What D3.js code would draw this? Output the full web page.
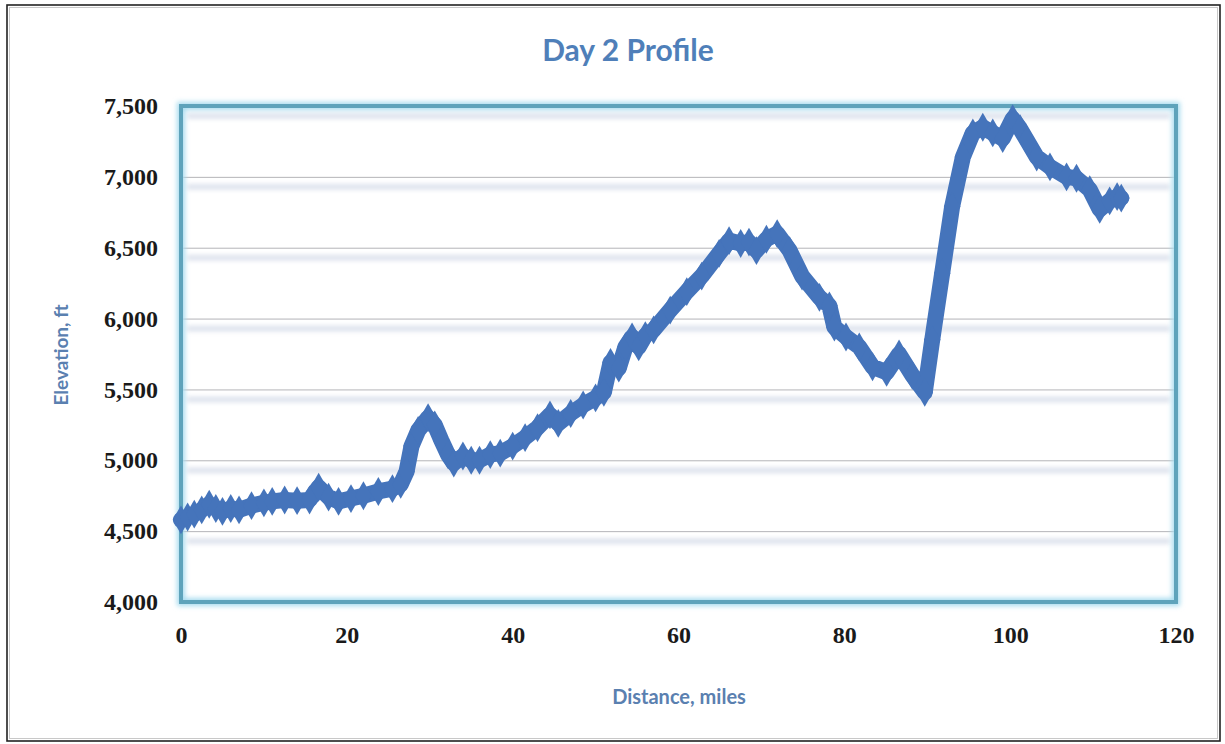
<!DOCTYPE html>
<html>
<head>
<meta charset="utf-8">
<script src="https://cdn.jsdelivr.net/npm/d3@7"></script>
<style>
  html, body { margin: 0; padding: 0; background: #ffffff; }
  svg { display: block; }
</style>
</head>
<body>
<svg id="chart" width="1225" height="744"></svg>
<script>
// ---- data ----
const chartTitle = "Day 2 Profile";
const xAxisTitle = "Distance, miles";
const yAxisTitle = "Elevation, ft";

const xTicks = [0, 20, 40, 60, 80, 100, 120];
const yTicks = [4000, 4500, 5000, 5500, 6000, 6500, 7000, 7500];

const distanceMiles = [
  0, 0.8, 1.6, 2.5, 3.4, 4.2, 5.0, 6.0, 7.0, 8.5,
  10, 11, 12.5, 14, 15.5, 16.6, 17.8, 19, 20.5, 22,
  23.8, 25.5, 26.5, 27.2, 27.8, 28.6, 29.8, 30.6, 31.4, 32.2,
  32.9, 34.0, 35.0, 36.0, 37.3, 38.5, 40.0, 41.5, 43.0, 44.5,
  45.5, 47.0, 48.5, 50.0, 51.0, 51.8, 52.8, 53.6, 54.4, 55.2,
  56.0, 57.0, 59.0, 61.0, 62.8, 64.9, 66.1, 67.5, 68.5, 69.4,
  70.6, 71.9, 73.4, 74.9, 77.0, 78.2, 78.8, 80.2, 81.8, 83.4,
  85.1, 86.6, 88.2, 89.7, 90.6, 91.8, 93.0, 94.3, 95.5, 96.7,
  97.9, 99.1, 100.3, 101.2, 102.0, 103.2, 104.8, 106.8, 108.0, 109.6,
  110.8, 112.0, 112.9, 113.4
];
const elevationFt = [
  4580, 4600, 4620, 4650, 4690, 4660, 4640, 4660, 4650, 4680,
  4700, 4710, 4720, 4715, 4720, 4810, 4740, 4710, 4730, 4750,
  4780, 4800, 4830, 4920, 5100, 5210, 5300, 5250, 5140, 5040,
  4980, 5030, 5000, 5000, 5040, 5050, 5100, 5160, 5230, 5320,
  5260, 5330, 5390, 5440, 5480, 5690, 5650, 5800, 5870, 5800,
  5880, 5920, 6060, 6190, 6300, 6460, 6550, 6530, 6540, 6480,
  6560, 6600, 6480, 6300, 6150, 6090, 5940, 5870, 5800, 5660,
  5620, 5750, 5600, 5480, 5850, 6320, 6790, 7140, 7310, 7350,
  7310, 7270, 7410, 7340, 7260, 7140, 7070, 7000, 6990, 6910,
  6770, 6830, 6860, 6850
];

// ---- drawing ----
const svg = d3.select("#chart");
const W = 1225, H = 744;
const plot = { left: 181, right: 1176, top: 106, bottom: 602 };

const x = d3.scaleLinear().domain([0, 120]).range([plot.left, plot.right]);
const y = d3.scaleLinear().domain([4000, 7500]).range([plot.bottom, plot.top]);

const defs = svg.append("defs");
const blur = defs.append("filter").attr("id", "soft")
  .attr("x", "-5%").attr("y", "-200%").attr("width", "110%").attr("height", "500%");
blur.append("feGaussianBlur").attr("stdDeviation", 2.2);
const glow = defs.append("filter").attr("id", "glow")
  .attr("x", "-5%").attr("y", "-5%").attr("width", "110%").attr("height", "110%");
glow.append("feGaussianBlur").attr("stdDeviation", 2.5);

// outer border
svg.append("rect").attr("x", 7).attr("y", 5).attr("width", W - 12).attr("height", H - 8)
  .attr("fill", "none").attr("stroke", "#222").attr("stroke-width", 1.6);
svg.append("rect").attr("x", 9.5).attr("y", 7.5).attr("width", W - 17).attr("height", H - 13)
  .attr("fill", "none").attr("stroke", "#c8c8c8").attr("stroke-width", 1);

// gridline shadows
svg.append("g").selectAll("rect").data(yTicks.filter(d => d > 4000))
  .join("rect")
  .attr("x", plot.left + 6).attr("width", plot.right - plot.left - 12)
  .attr("y", d => y(d) + 7).attr("height", 6)
  .attr("fill", "#dfe4ee").attr("filter", "url(#soft)");

// gridlines
svg.append("g").selectAll("line").data(yTicks.filter(d => d > 4000 && d < 7500))
  .join("line")
  .attr("x1", plot.left).attr("x2", plot.right)
  .attr("y1", d => y(d) + 0.5).attr("y2", d => y(d) + 0.5)
  .attr("stroke", "#b4b4b8").attr("stroke-width", 1);

// frame glow + frame
svg.append("rect")
  .attr("x", plot.left).attr("y", plot.top)
  .attr("width", plot.right - plot.left).attr("height", plot.bottom - plot.top)
  .attr("fill", "none").attr("stroke", "#a8dcef").attr("stroke-width", 8)
  .attr("filter", "url(#glow)");
svg.append("rect")
  .attr("x", plot.left).attr("y", plot.top)
  .attr("width", plot.right - plot.left).attr("height", plot.bottom - plot.top)
  .attr("fill", "none").attr("stroke", "#5ea3bb").attr("stroke-width", 4);

// axes (labels only)
const yAxis = d3.axisLeft(y).tickValues(yTicks).tickFormat(d3.format(",")).tickSize(0).tickPadding(23);
const gy = svg.append("g").attr("transform", `translate(${plot.left},0)`).call(yAxis);
gy.select(".domain").remove();
gy.selectAll("text").attr("font-family", "'Liberation Serif', 'DejaVu Serif', serif")
  .attr("font-size", 24).attr("font-weight", "bold").attr("fill", "#1a1a1a");

const xAxis = d3.axisBottom(x).tickValues(xTicks).tickSize(0).tickPadding(24);
const gx = svg.append("g").attr("transform", `translate(0,${plot.bottom})`).call(xAxis);
gx.select(".domain").remove();
gx.selectAll("text").attr("font-family", "'Liberation Serif', 'DejaVu Serif', serif")
  .attr("font-size", 24).attr("font-weight", "bold").attr("fill", "#1a1a1a");

// line
const pts = distanceMiles.map((d, i) => [d, elevationFt[i]]);
const line = d3.line().x(d => x(d[0])).y(d => y(d[1]));
const lineColor = "#4574bb";
svg.append("path").datum(pts).attr("d", line)
  .attr("fill", "none").attr("stroke", lineColor).attr("stroke-width", 16)
  .attr("stroke-linejoin", "round").attr("stroke-linecap", "round");
svg.append("g").selectAll("path").data(pts).join("path")
  .attr("d", d3.symbol().type(d3.symbolDiamond).size(240))
  .attr("transform", d => `translate(${x(d[0])},${y(d[1])})`)
  .attr("fill", lineColor);

// titles
svg.append("text").attr("x", 628).attr("y", 61).attr("text-anchor", "middle")
  .attr("font-family", "Lato, 'Open Sans', sans-serif").attr("font-weight", "bold")
  .attr("font-size", 30).attr("fill", "#4f7fb9").text(chartTitle);

svg.append("text").attr("x", 679).attr("y", 704).attr("text-anchor", "middle")
  .attr("font-family", "Lato, 'Open Sans', sans-serif").attr("font-weight", "bold")
  .attr("font-size", 20).attr("fill", "#5a80b0").text(xAxisTitle);

svg.append("text").attr("transform", "translate(68,355) rotate(-90)").attr("text-anchor", "middle")
  .attr("font-family", "Lato, 'Open Sans', sans-serif").attr("font-weight", "bold")
  .attr("font-size", 19).attr("fill", "#5a80b0").text(yAxisTitle);
</script>
</body>
</html>
